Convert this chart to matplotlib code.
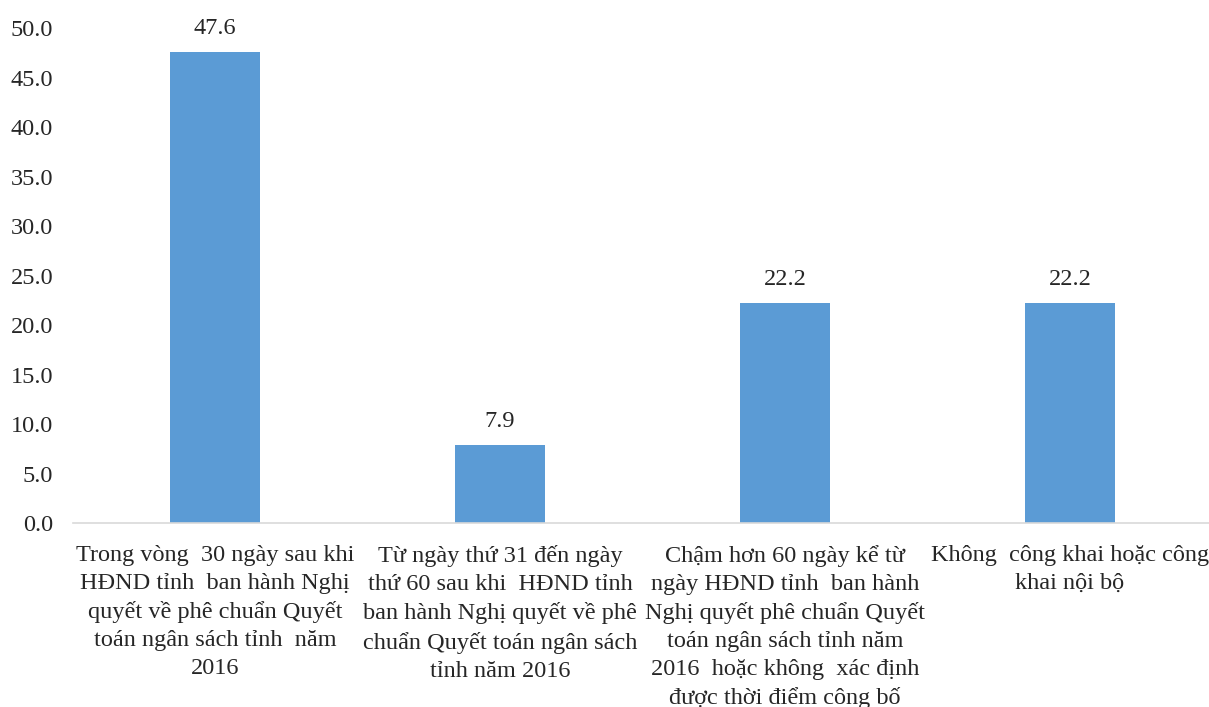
import matplotlib
matplotlib.use("Agg")
import matplotlib.pyplot as plt
import numpy as np

categories = [
    "Trong vòng  30 ngày sau khi\nHĐND tỉnh  ban hành Nghị\nquyết về phê chuẩn Quyết\ntoán ngân sách tỉnh  năm\n2016",
    "Từ ngày thứ 31 đến ngày\nthứ 60 sau khi  HĐND tỉnh\nban hành Nghị quyết về phê\nchuẩn Quyết toán ngân sách\ntỉnh năm 2016",
    "Chậm hơn 60 ngày kể từ\nngày HĐND tỉnh  ban hành\nNghị quyết phê chuẩn Quyết\ntoán ngân sách tỉnh năm\n2016  hoặc không  xác định\nđược thời điểm công bố",
    "Không  công khai hoặc công\nkhai nội bộ",
]
values = [47.6, 7.9, 22.2, 22.2]
yticks = [0, 5, 10, 15, 20, 25, 30, 35, 40, 45, 50]

plt.rcParams["font.family"] = ["Liberation Serif", "DejaVu Serif"]
text_color = "#262626"
fs = 17.5

W, H = 1209, 707
fig = plt.figure(figsize=(W / 100, H / 100), dpi=100)
left_px, right_px = 72.5, 1209
bottom_px, top_px = 523, 28.3
ax = fig.add_axes([left_px / W, (H - bottom_px) / H,
                   (right_px - left_px) / W, (bottom_px - top_px) / H])

x = np.arange(len(values))
bars = ax.bar(x, values, width=0.316, color="#5B9BD5", zorder=2)

ax.set_xlim(-0.5, -0.5 + (right_px - left_px) / 285.0)
ax.set_ylim(0, 50)
ax.set_yticks(yticks)
ax.set_yticklabels([f"{v:.1f}" for v in yticks], fontsize=fs, color=text_color)
ax.tick_params(axis="y", length=0, pad=14)
ax.set_xticks([])

for s in ["top", "right", "left"]:
    ax.spines[s].set_visible(False)
ax.spines["bottom"].set_color("#D9D9D9")
ax.spines["bottom"].set_linewidth(1.2)

for xi, v in zip(x, values):
    ax.annotate(f"{v:.1f}", xy=(xi, v), xytext=(0, 9.5), textcoords="offset points",
                ha="center", va="bottom", fontsize=fs, color=text_color)

for xi, lab in zip(x, categories):
    ax.annotate(lab, xy=(xi, 0), xycoords=("data", "axes fraction"),
                xytext=(0, -16), textcoords="offset points",
                ha="center", va="top", fontsize=fs, color=text_color,
                linespacing=1.43, annotation_clip=False)

fig.savefig("out.png", dpi=100)
